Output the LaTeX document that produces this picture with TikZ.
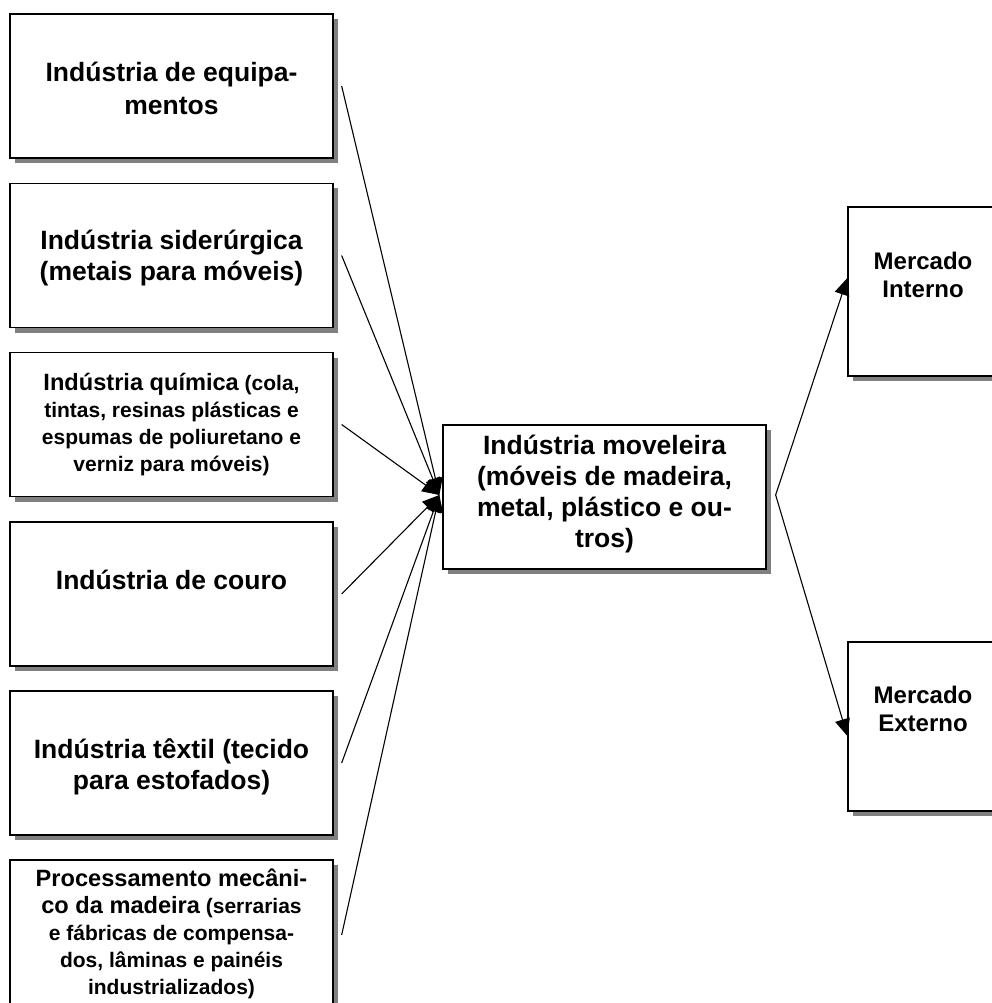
\documentclass[tikz,border=0pt]{standalone}
\usepackage{fontspec}
\setmainfont{Liberation Sans}
\usetikzlibrary{arrows.meta,shadows}
\definecolor{shade}{HTML}{808080}

\tikzset{
  panel/.style={rectangle, draw=black, line width=1.3pt, fill=white, inner sep=0pt,
    minimum width=323pt, minimum height=144pt,
    drop shadow={fill=shade, opacity=1, shadow xshift=5pt, shadow yshift=-5pt}},
  caption/.style={align=center, inner sep=0pt,
    font=\bfseries\fontsize{26.5}{31}\selectfont},
  smallcaption/.style={align=center, inner sep=0pt,
    font=\bfseries\fontsize{21}{27}\selectfont},
  marketcaption/.style={align=center, inner sep=0pt,
    font=\bfseries\fontsize{24}{28}\selectfont},
  feed/.style={line width=1.1pt, -{Triangle[length=17pt,width=15pt]}},
}
\newcommand{\headsize}{\fontsize{23.6}{27}\selectfont}

\begin{document}
\begin{tikzpicture}[x=1pt,y=-1pt]
\useasboundingbox (0,0) rectangle (992,1003);

% supplier boxes (left column)
\node[panel] (b1) at (171.5,86) {};
\node[panel] (b2) at (171.5,255.5) {};
\node[panel] (b3) at (171.5,424.5) {};
\node[panel] (b4) at (171.5,594) {};
\node[panel] (b5) at (171.5,763) {};
\node[panel, minimum height=150pt] (b6) at (171.5,935) {};

% furniture industry and the two markets
\node[panel] (mid) at (604.5,497) {};
\node[panel, minimum width=150pt, minimum height=169pt] (m1) at (923,291.5) {};
\node[panel, minimum width=150pt, minimum height=169pt] (m2) at (923,726.5) {};

% captions
\node[caption, font=\bfseries\fontsize{26.5}{33}\selectfont] (t1) at (171.5,88) {Indústria de equipa-\\mentos};
\node[caption] (t2) at (171.5,258) {Indústria siderúrgica\\(metais para móveis)};
\node[smallcaption] (t3) at (171.5,425)
  {{\headsize Indústria química} (cola,\\tintas, resinas plásticas e\\espumas de poliuretano e\\verniz para móveis)};
\node[caption] (t4) at (171.5,580) {Indústria de couro};
\node[caption] (t5) at (171.5,767) {Indústria têxtil (tecido\\para estofados)};
\node[smallcaption] (t6) at (171.5,934)
  {{\headsize Processamento mecâni-}\\{\headsize co da madeira} (serrarias\\e fábricas de compensa-\\dos, lâminas e painéis\\industrializados)};
\node[caption] (tm) at (604.5,494) {Indústria moveleira\\(móveis de madeira,\\metal, plástico e ou-\\tros)};
\node[marketcaption] (tm1) at (923,275) {Mercado\\Interno};
\node[marketcaption] (tm2) at (923,709) {Mercado\\Externo};

% connectors
\coordinate (join) at ([xshift=-3pt,yshift=2pt]mid.west);
\coordinate (fork) at ([xshift=9pt,yshift=2pt]mid.east);
\foreach \b in {b1,b2,b3,b4,b5,b6}
  \draw[feed] ([xshift=8pt]\b.east) -- (join);
\draw[feed] (fork) -- ([yshift=13.5pt]m1.west);
\draw[feed] (fork) -- ([yshift=-9.5pt]m2.west);
\end{tikzpicture}
\end{document}
